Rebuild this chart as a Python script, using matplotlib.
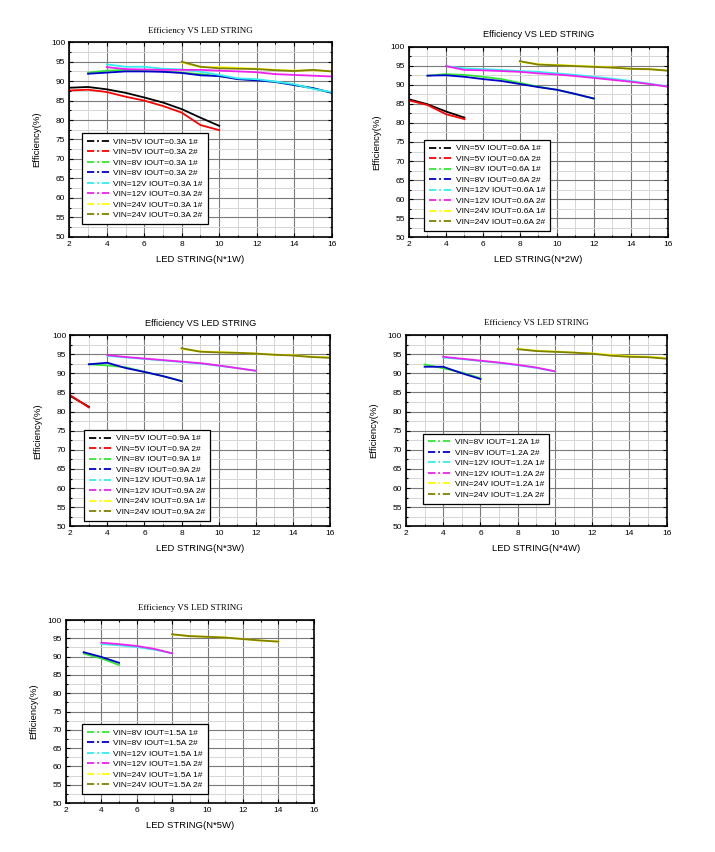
import matplotlib
matplotlib.use("Agg")
import matplotlib.pyplot as plt
from matplotlib.lines import Line2D
from matplotlib.ticker import MultipleLocator

# ---------------- data ----------------
title = "Efficiency VS LED STRING"
ylabel = "Efficiency(%)"

# Panel 1 : N*1W, IOUT=0.3A
p1_x_5v = [2, 3, 4, 5, 6, 7, 8, 9, 10]
p1_5v_1 = [88.3, 88.5, 87.9, 87.0, 85.8, 84.5, 82.8, 80.6, 78.5]
p1_5v_2 = [87.6, 87.8, 87.2, 86.0, 85.0, 83.6, 81.9, 78.7, 77.4]
p1_x_8v = [3, 4, 5, 6, 7, 8, 9, 10, 11, 12, 13, 14, 15, 16]
p1_8v_1 = [92.2, 92.7, 92.9, 92.7, 92.5, 92.2, 91.8, 91.3, 90.6, 90.3, 89.8, 89.0, 88.2, 87.0]
p1_8v_2 = [91.9, 92.2, 92.5, 92.5, 92.4, 92.1, 91.5, 91.3, 90.5, 90.2, 89.8, 89.0, 88.2, 87.0]
p1_x_12v = [4, 5, 6, 7, 8, 9, 10, 11, 12, 13, 14, 15, 16]
p1_12v_1 = [94.3, 93.7, 93.7, 93.2, 93.0, 92.4, 91.6, 90.7, 90.5, 89.9, 89.2, 88.0, 87.2]
p1_12v_2 = [93.6, 93.1, 93.0, 92.9, 92.9, 92.9, 92.7, 92.5, 92.3, 91.8, 91.6, 91.4, 91.2]
p1_x_24v = [8, 9, 10, 11, 12, 13, 14, 15, 16]
p1_24v_1 = [94.8, 93.6, 93.6, 93.4, 93.2, 92.9, 92.7, 92.8, 92.5]
p1_24v_2 = [95.0, 93.7, 93.3, 93.2, 93.1, 92.8, 92.6, 92.9, 92.5]

# Panel 2 : N*2W, IOUT=0.6A
p2_x_5v = [2, 3, 4, 5]
p2_5v_1 = [86.2, 84.9, 83.0, 81.4]
p2_5v_2 = [85.9, 84.7, 82.3, 81.0]
p2_x_8v = [3, 4, 5, 6, 7, 8, 9, 10, 11, 12]
p2_8v_1 = [92.4, 92.8, 92.6, 92.1, 91.5, 90.5, 89.5, 88.7, 87.6, 86.4]
p2_8v_2 = [92.4, 92.5, 92.1, 91.5, 91.0, 90.2, 89.4, 88.7, 87.6, 86.4]
p2_x_12v = [4, 5, 6, 7, 8, 9, 10, 11, 12, 13, 14, 15, 16]
p2_12v_1 = [94.9, 94.3, 94.1, 93.9, 93.6, 93.4, 93.0, 92.6, 92.1, 91.6, 91.0, 90.3, 89.6]
p2_12v_2 = [94.9, 93.9, 93.8, 93.6, 93.4, 93.0, 92.7, 92.3, 91.8, 91.3, 90.8, 90.2, 89.5]
p2_x_24v = [8, 9, 10, 11, 12, 13, 14, 15, 16]
p2_24v_1 = [96.0, 95.4, 95.2, 95.0, 94.8, 94.6, 94.2, 94.1, 93.8]
p2_24v_2 = [96.2, 95.3, 95.1, 94.9, 94.7, 94.5, 94.2, 94.1, 93.7]

# Panel 3 : N*3W, IOUT=0.9A
p3_x_5v = [2, 3]
p3_5v_1 = [84.1, 81.3]
p3_5v_2 = [84.3, 81.1]
p3_x_8v = [3, 4, 5, 6, 7, 8]
p3_8v_1 = [92.4, 92.1, 91.6, 90.4, 89.3, 88.0]
p3_8v_2 = [92.4, 92.8, 91.4, 90.4, 89.3, 88.0]
p3_x_12v = [4, 5, 6, 7, 8, 9, 10, 11, 12]
p3_12v_1 = [94.6, 94.2, 93.8, 93.4, 93.0, 92.6, 92.0, 91.4, 90.7]
p3_12v_2 = [94.8, 94.3, 93.9, 93.5, 93.1, 92.7, 92.1, 91.4, 90.7]
p3_x_24v = [8, 9, 10, 11, 12, 13, 14, 15, 16]
p3_24v_1 = [96.4, 95.8, 95.6, 95.4, 95.2, 94.9, 94.8, 94.4, 94.2]
p3_24v_2 = [96.6, 95.7, 95.5, 95.4, 95.2, 94.9, 94.7, 94.3, 94.1]

# Panel 4 : N*4W, IOUT=1.2A
p4_x_8v = [3, 4, 5, 6]
p4_8v_1 = [92.3, 91.3, 90.2, 88.7]
p4_8v_2 = [91.7, 91.7, 90.0, 88.5]
p4_x_12v = [4, 5, 6, 7, 8, 9, 10]
p4_12v_1 = [94.1, 93.7, 93.2, 92.7, 92.1, 91.4, 90.5]
p4_12v_2 = [94.3, 93.8, 93.3, 92.8, 92.2, 91.5, 90.5]
p4_x_24v = [8, 9, 10, 11, 12, 13, 14, 15, 16]
p4_24v_1 = [96.4, 95.9, 95.7, 95.4, 95.2, 94.8, 94.5, 94.3, 94.0]
p4_24v_2 = [96.3, 95.8, 95.6, 95.4, 95.1, 94.6, 94.3, 94.2, 93.8]

# Panel 5 : N*5W, IOUT=1.5A
p5_x_8v = [3, 4, 5]
p5_8v_1 = [90.8, 89.5, 87.7]
p5_8v_2 = [91.2, 89.9, 88.3]
p5_x_12v = [4, 5, 6, 7, 8]
p5_12v_1 = [93.4, 93.1, 92.6, 91.9, 90.9]
p5_12v_2 = [93.8, 93.4, 92.9, 92.1, 90.9]
p5_x_24v = [8, 9, 10, 11, 12, 13, 14]
p5_24v_1 = [96.0, 95.6, 95.4, 95.2, 94.8, 94.4, 94.1]
p5_24v_2 = [96.1, 95.6, 95.4, 95.2, 94.8, 94.4, 94.1]

colors = {
    "5v_1": "#000000", "5v_2": "#ff0000",
    "8v_1": "#33e833", "8v_2": "#0000cc",
    "12v_1": "#33eeee", "12v_2": "#ee22ee",
    "24v_1": "#ffff00", "24v_2": "#808000",
}

panels = [
    dict(pos=[0.0969, 0.7222, 0.3670, 0.2282], xlabel="LED STRING(N*1W)", iout="0.3A",
         serif_title=True, leg=(0.047, 0.065),
         series=[("5V", "1#", "5v_1", p1_x_5v, p1_5v_1), ("5V", "2#", "5v_2", p1_x_5v, p1_5v_2),
                 ("8V", "1#", "8v_1", p1_x_8v, p1_8v_1), ("8V", "2#", "8v_2", p1_x_8v, p1_8v_2),
                 ("12V", "1#", "12v_1", p1_x_12v, p1_12v_1), ("12V", "2#", "12v_2", p1_x_12v, p1_12v_2),
                 ("24V", "1#", "24v_1", p1_x_24v, p1_24v_1), ("24V", "2#", "24v_2", p1_x_24v, p1_24v_2)]),
    dict(pos=[0.5720, 0.7215, 0.3618, 0.2237], xlabel="LED STRING(N*2W)", iout="0.6A",
         serif_title=False, leg=(0.059, 0.033),
         series=[("5V", "1#", "5v_1", p2_x_5v, p2_5v_1), ("5V", "2#", "5v_2", p2_x_5v, p2_5v_2),
                 ("8V", "1#", "8v_1", p2_x_8v, p2_8v_1), ("8V", "2#", "8v_2", p2_x_8v, p2_8v_2),
                 ("12V", "1#", "12v_1", p2_x_12v, p2_12v_1), ("12V", "2#", "12v_2", p2_x_12v, p2_12v_2),
                 ("24V", "1#", "24v_1", p2_x_24v, p2_24v_1), ("24V", "2#", "24v_2", p2_x_24v, p2_24v_2)]),
    dict(pos=[0.0983, 0.3823, 0.3632, 0.2242], xlabel="LED STRING(N*3W)", iout="0.9A",
         serif_title=False, leg=(0.054, 0.028),
         series=[("5V", "1#", "5v_1", p3_x_5v, p3_5v_1), ("5V", "2#", "5v_2", p3_x_5v, p3_5v_2),
                 ("8V", "1#", "8v_1", p3_x_8v, p3_8v_1), ("8V", "2#", "8v_2", p3_x_8v, p3_8v_2),
                 ("12V", "1#", "12v_1", p3_x_12v, p3_12v_1), ("12V", "2#", "12v_2", p3_x_12v, p3_12v_2),
                 ("24V", "1#", "24v_1", p3_x_24v, p3_24v_1), ("24V", "2#", "24v_2", p3_x_24v, p3_24v_2)]),
    dict(pos=[0.5678, 0.3823, 0.3646, 0.2245], xlabel="LED STRING(N*4W)", iout="1.2A",
         serif_title=True, leg=(0.066, 0.117),
         series=[("8V", "1#", "8v_1", p4_x_8v, p4_8v_1), ("8V", "2#", "8v_2", p4_x_8v, p4_8v_2),
                 ("12V", "1#", "12v_1", p4_x_12v, p4_12v_1), ("12V", "2#", "12v_2", p4_x_12v, p4_12v_2),
                 ("24V", "1#", "24v_1", p4_x_24v, p4_24v_1), ("24V", "2#", "24v_2", p4_x_24v, p4_24v_2)]),
    dict(pos=[0.0923, 0.0575, 0.3464, 0.2148], xlabel="LED STRING(N*5W)", iout="1.5A",
         serif_title=True, leg=(0.063, 0.049),
         series=[("8V", "1#", "8v_1", p5_x_8v, p5_8v_1), ("8V", "2#", "8v_2", p5_x_8v, p5_8v_2),
                 ("12V", "1#", "12v_1", p5_x_12v, p5_12v_1), ("12V", "2#", "12v_2", p5_x_12v, p5_12v_2),
                 ("24V", "1#", "24v_1", p5_x_24v, p5_24v_1), ("24V", "2#", "24v_2", p5_x_24v, p5_24v_2)]),
]

SANS = ["Liberation Sans", "DejaVu Sans"]
SERIF = ["Liberation Serif", "DejaVu Serif"]

fig = plt.figure(figsize=(7.15, 8.52), dpi=100)
fig.patch.set_facecolor("white")

for p in panels:
    ax = fig.add_axes(p["pos"])
    ax.set_xlim(2, 16)
    ax.set_ylim(50, 100)
    ax.xaxis.set_major_locator(MultipleLocator(2))
    ax.xaxis.set_minor_locator(MultipleLocator(1))
    ax.yaxis.set_major_locator(MultipleLocator(5))
    ax.yaxis.set_minor_locator(MultipleLocator(2.5))
    ax.grid(which="major", color="#7a7a7a", linewidth=0.8)
    ax.grid(which="minor", color="#d6d6d6", linewidth=0.7)
    ax.set_axisbelow(True)
    for s in ax.spines.values():
        s.set_linewidth(1.2)
    ax.tick_params(which="both", direction="in", top=True, right=True,
                   labelsize=6, pad=3, width=0.8)
    ax.tick_params(which="major", length=3)
    ax.tick_params(which="minor", length=1.5)
    for lab in ax.get_xticklabels() + ax.get_yticklabels():
        lab.set_fontfamily(SANS)

    handles = []
    for vin, unit, key, xs, ys in p["series"]:
        ax.plot(xs, ys, color=colors[key], linewidth=1.3, solid_joinstyle="round")
        handles.append(Line2D([], [], color=colors[key], linewidth=1.3, linestyle=(0, (4, 1.6, 1, 1.6)),
                              label=f"VIN={vin} IOUT={p['iout']} {unit}"))

    leg = ax.legend(handles=handles, loc="lower left", bbox_to_anchor=p["leg"],
                    prop={"family": SANS, "size": 6.0}, frameon=True, fancybox=False,
                    borderaxespad=0, handlelength=2.8, handletextpad=0.4,
                    labelspacing=0.32, borderpad=0.6)
    leg.get_frame().set_edgecolor("black")
    leg.get_frame().set_linewidth(0.9)
    leg.get_frame().set_alpha(1)

    if p["serif_title"]:
        ax.set_title(title, fontsize=6.4, family=SERIF, pad=7)
    else:
        ax.set_title(title, fontsize=6.6, family=SANS, pad=7)
    ax.set_xlabel(p["xlabel"], fontsize=6.8, family=SANS, labelpad=5)
    ax.set_ylabel(ylabel, fontsize=6.8, family=SANS, labelpad=7)

fig.savefig("out.png", dpi=100, facecolor="white")
